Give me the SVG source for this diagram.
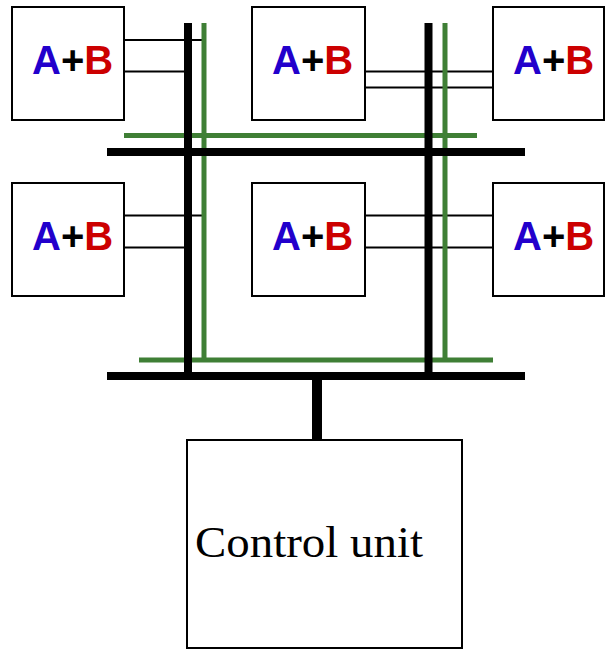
<svg xmlns="http://www.w3.org/2000/svg" width="605" height="653" viewBox="0 0 605 653">
<style>
.box{fill:#fff;stroke:#000;stroke-width:2}
.t{font-family:"Liberation Sans",Arial,sans-serif;font-weight:bold;font-size:40px}
.a{fill:#2200cc}.p{fill:#000}.b{fill:#cc0000}
.w{stroke:#000;stroke-width:2;fill:none}
.bk{stroke:#000;stroke-width:8;fill:none}
.gr{stroke:#3f7f35;stroke-width:5;fill:none}
</style>
<rect width="605" height="653" fill="#fff"/>
<g id="connectors">
<line class="w" x1="124" y1="40" x2="205" y2="40"/>
<line class="w" x1="124" y1="71.5" x2="185" y2="71.5"/>
<line class="w" x1="365" y1="71.5" x2="493" y2="71.5"/>
<line class="w" x1="365" y1="87.5" x2="493" y2="87.5"/>
<line class="w" x1="124" y1="215.5" x2="205" y2="215.5"/>
<line class="w" x1="124" y1="247.5" x2="185" y2="247.5"/>
<line class="w" x1="365" y1="215.5" x2="493" y2="215.5"/>
<line class="w" x1="365" y1="247.5" x2="493" y2="247.5"/>
<line class="gr" x1="124" y1="135.5" x2="477" y2="135.5"/>
<line class="gr" x1="139" y1="360" x2="493" y2="360"/>
<line class="gr" x1="204" y1="23" x2="204" y2="360"/>
<line class="gr" x1="445" y1="23" x2="445" y2="360"/>
<line class="bk" x1="188" y1="23" x2="188" y2="380"/>
<line class="bk" x1="428.5" y1="23" x2="428.5" y2="380"/>
<line class="bk" x1="107" y1="152" x2="525" y2="152"/>
<line class="bk" x1="107" y1="376" x2="525" y2="376"/>
<line stroke="#000" stroke-width="10" x1="317" y1="376" x2="317" y2="441"/>
</g>
<g id="adder1"><rect class="box" x="12" y="7" width="112" height="113"/><text class="t" x="32" y="74"><tspan class="a">A</tspan><tspan class="p">+</tspan><tspan class="b">B</tspan></text></g>
<g id="adder2"><rect class="box" x="252" y="7" width="113" height="113"/><text class="t" x="272" y="74"><tspan class="a">A</tspan><tspan class="p">+</tspan><tspan class="b">B</tspan></text></g>
<g id="adder3"><rect class="box" x="493" y="7" width="111" height="113"/><text class="t" x="513" y="74"><tspan class="a">A</tspan><tspan class="p">+</tspan><tspan class="b">B</tspan></text></g>
<g id="adder4"><rect class="box" x="12" y="183" width="112" height="113"/><text class="t" x="32" y="250"><tspan class="a">A</tspan><tspan class="p">+</tspan><tspan class="b">B</tspan></text></g>
<g id="adder5"><rect class="box" x="252" y="183" width="113" height="113"/><text class="t" x="272" y="250"><tspan class="a">A</tspan><tspan class="p">+</tspan><tspan class="b">B</tspan></text></g>
<g id="adder6"><rect class="box" x="493" y="183" width="111" height="113"/><text class="t" x="513" y="250"><tspan class="a">A</tspan><tspan class="p">+</tspan><tspan class="b">B</tspan></text></g>
<g id="control"><rect class="box" x="187" y="440" width="275" height="208"/><text x="195" y="557" font-family="Liberation Serif,'Times New Roman',serif" font-size="44" textLength="228" lengthAdjust="spacingAndGlyphs">Control unit</text></g>
</svg>
